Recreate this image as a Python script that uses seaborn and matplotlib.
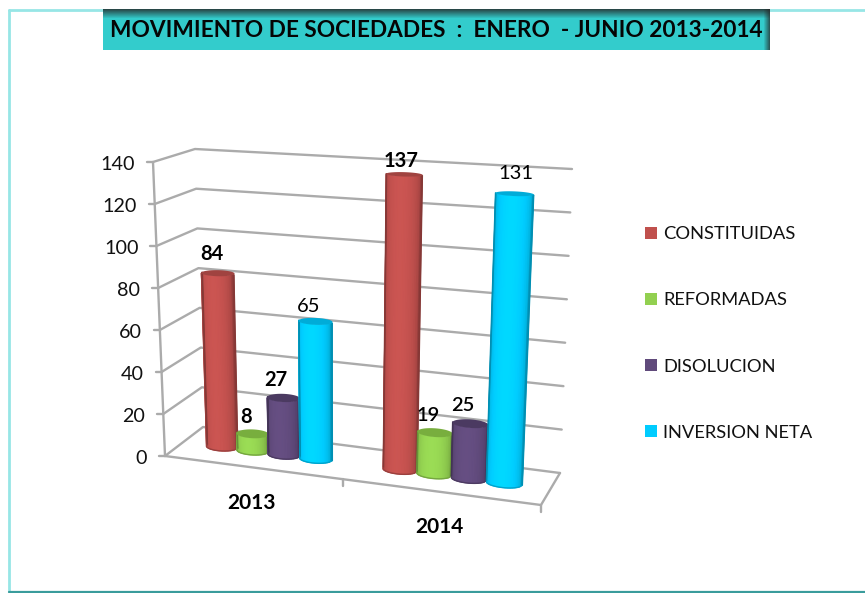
import numpy as np
import pandas as pd
import seaborn as sns
import matplotlib
matplotlib.use("Agg")
import matplotlib.pyplot as plt
from matplotlib.colors import to_rgb
from matplotlib.patches import Patch, Polygon, Rectangle

# ---- data ----
years = ["2013", "2014"]
series = ["CONSTITUIDAS", "REFORMADAS", "DISOLUCION", "INVERSION NETA"]
constituidas = [84, 137]
reformadas = [8, 19]
disolucion = [27, 25]
inversion_neta = [65, 131]
y_ticks = [0, 20, 40, 60, 80, 100, 120, 140]
colors = ["#C0504D", "#92D050", "#604A7B", "#00CCFF"]
top_colors = ["#A04340", "#78AE3E", "#4B3A61", "#00ACD8"]
# label text offsets from the bar top (px) and weight
label_dx = [[-6, -3], [-7, -7], [-8, -8], [-7, 1]]
label_dy = [[-19, -13], [-17, -17], [-18, -18], [-15, -20]]
label_weight = [["bold", "bold"], ["bold", "semibold"], ["bold", "semibold"], ["normal", "normal"]]

W, H = 865, 593
sns.set_theme(style="white")
plt.rcParams["font.family"] = ["Lato", "DejaVu Sans"]

df = pd.DataFrame({
    "year": years * 4,
    "serie": np.repeat(series, 2),
    "value": constituidas + reformadas + disolucion + inversion_neta,
})

fig = plt.figure(figsize=(W / 100, H / 100), dpi=100, facecolor="white")

# seaborn works out the dodged bar layout in category/value units
layout_ax = fig.add_axes([0, 0, 1, 1])
sns.barplot(data=df, x="year", y="value", hue="serie", order=years, hue_order=series,
            width=0.72, gap=0, legend=False, ax=layout_ax)
layout_ax.set_xlim(-0.5, 1.5)
layout_ax.set_ylim(0, 140)
rects = list(layout_ax.patches)[:8]
layout_ax.set_visible(False)

ax = fig.add_axes([0, 0, 1, 1])
ax.set_xlim(0, W)
ax.set_ylim(H, 0)
ax.axis("off")

# corners of the 3-D box on screen (front/back, left/right, bottom/top)
FLB, FLT = np.array([165., 456.]), np.array([153., 162.])
BLB, BLT = np.array([203., 427.]), np.array([195., 149.])
FRB, FRT = np.array([541., 505.]), np.array([557., 184.])
BRB, BRT = np.array([560., 473.]), np.array([572., 169.])
K = 0.90


def project(cat, depth, value):
    """cat in category units (-0.5..1.5), depth 0 front..1 back, value in axis units."""
    t = (cat + 0.5) / 2
    t = t * K / (1 + t * (K - 1))
    v = value / 140
    bottom = ((1 - depth) * ((1 - t) * FLB + t * FRB) + depth * ((1 - t) * BLB + t * BRB))
    top = ((1 - depth) * ((1 - t) * FLT + t * FRT) + depth * ((1 - t) * BLT + t * BRT))
    return (1 - v) * bottom + v * top


grid_kw = dict(color="#ABABAB", lw=1.7, solid_capstyle="round", zorder=2)
for val in y_ticks:
    pts = np.array([project(-0.5, 0, val), project(-0.5, 1, val), project(1.5, 1, val)])
    ax.plot(pts[:, 0], pts[:, 1], **grid_kw)
    tick = project(-0.5, 0, val)
    ax.plot([tick[0] - 6, tick[0]], [tick[1], tick[1]], **grid_kw)
    ax.text(tick[0] - 18, tick[1] + 2.5, str(val), ha="right", va="center", fontsize=14.2, color="#111111")

pts = np.array([project(-0.5, 0, 0), project(-0.5, 0, 140)])
ax.plot(pts[:, 0], pts[:, 1], **grid_kw)
pts = np.array([project(-0.5, 0, 0), project(1.5, 0, 0), project(1.5, 1, 0), project(1.5, 1, 0)])
ax.plot(pts[:, 0], pts[:, 1], **grid_kw)
for cat in (0.5, 1.5):
    p = project(cat, 0, 0)
    ax.plot([p[0], p[0]], [p[1], p[1] + 7], **grid_kw)
for cat, yr, off in zip((0, 1), years, (36, 35)):
    p = project(cat, 0, 0)
    ax.text(p[0], p[1] + off, yr, ha="center", va="center", fontsize=15,
            fontweight="bold", color="black", zorder=8)

# cylinders, from the bars seaborn laid out
DELTA = 0.14
theta = np.arccos(np.linspace(1, -1, 25))   # strips of equal screen width
full = np.linspace(0, 2 * np.pi, 81)
for s_idx in range(4):
    for c_idx in range(2):
        rect = rects[s_idx * 2 + c_idx]
        cx = rect.get_x() + rect.get_width() / 2
        ru = rect.get_width() / 2
        val = rect.get_height()
        z = 5 + c_idx + s_idx * 0.1

        def ring(angles, value):
            return np.array([project(cx + ru * np.cos(a), 0.5 - DELTA * np.sin(a), value)
                             for a in angles])

        lo, hi = ring(theta, 0), ring(theta, val)
        base = np.array(to_rgb(colors[s_idx]))
        # lit in the middle, darkening to the silhouette
        shade = 0.66 + 0.40 * np.sin(theta) ** 0.6
        rgb = np.clip(base[None, :] * shade[:, None], 0, 1)
        X = np.vstack([lo[:, 0], hi[:, 0]])
        Y = np.vstack([lo[:, 1], hi[:, 1]])
        C = np.stack([rgb, rgb])
        ax.pcolormesh(X, Y, C, shading="gouraud", zorder=z)
        # clean silhouette along both sides and round the foot
        ax.plot(lo[:, 0], lo[:, 1], color=base * 0.8, lw=1.0, zorder=z + 0.005)
        for side in (0, -1):
            ax.plot([lo[side][0], hi[side][0]], [lo[side][1], hi[side][1]], color=base * 0.7,
                    lw=1.2, solid_capstyle="butt", zorder=z + 0.005, snap=False)
        ax.add_patch(Polygon(ring(full, val), closed=True, facecolor=top_colors[s_idx],
                             edgecolor="none", zorder=z + 0.01, snap=False))
        top = project(cx, 0.5, val)
        ax.text(top[0] + label_dx[s_idx][c_idx], top[1] + label_dy[s_idx][c_idx], f"{val:.0f}",
                ha="center", va="center", fontsize=14.5, fontweight=label_weight[s_idx][c_idx],
                color="black", zorder=9)

# outer frame
ax.plot([8.5, 8.5], [10, 592], color="#97E6E6", lw=2, zorder=1)
ax.plot([8.5, 865], [10, 10], color="#97E6E6", lw=2, zorder=1)
ax.plot([8.5, 865], [592, 592], color="#3A9C9C", lw=1.6, zorder=1)

# title bar with inner shadow at the top and right
ax.add_patch(Rectangle((103, 9), 667, 41, facecolor="#33CCCC", edgecolor="none", zorder=3))
grad_top = np.linspace(0.8, 0, 10).reshape(-1, 1)
ax.imshow(np.dstack([np.full((10, 1, 3), 0.15), grad_top]), extent=(103, 770, 19, 9),
          aspect="auto", zorder=4)
grad_r = np.linspace(0, 0.7, 7).reshape(1, -1)
ax.imshow(np.dstack([np.full((1, 7, 3), 0.15), grad_r]), extent=(763, 770, 50, 9),
          aspect="auto", zorder=4)
ax.set_xlim(0, W)
ax.set_ylim(H, 0)
ax.text(436.5, 30.5, "MOVIMIENTO DE SOCIEDADES  :  ENERO  - JUNIO 2013-2014", ha="center", va="center",
        fontsize=16.3, fontweight="bold", color="#050505", zorder=6)

# legend
handles = [Patch(facecolor=c, edgecolor="none", label=s) for c, s in zip(colors, series)]
leg = ax.legend(handles=handles, loc="center left", bbox_to_anchor=(628.5 / W, 1 - 333.5 / H),
                bbox_transform=fig.transFigure, frameon=False, fontsize=13.2,
                labelspacing=2.73, handlelength=0.67, handleheight=0.67, handletextpad=0.32,
                labelcolor="#111111")
leg.set_zorder(10)

fig.savefig("out.png", dpi=100, facecolor="white")
